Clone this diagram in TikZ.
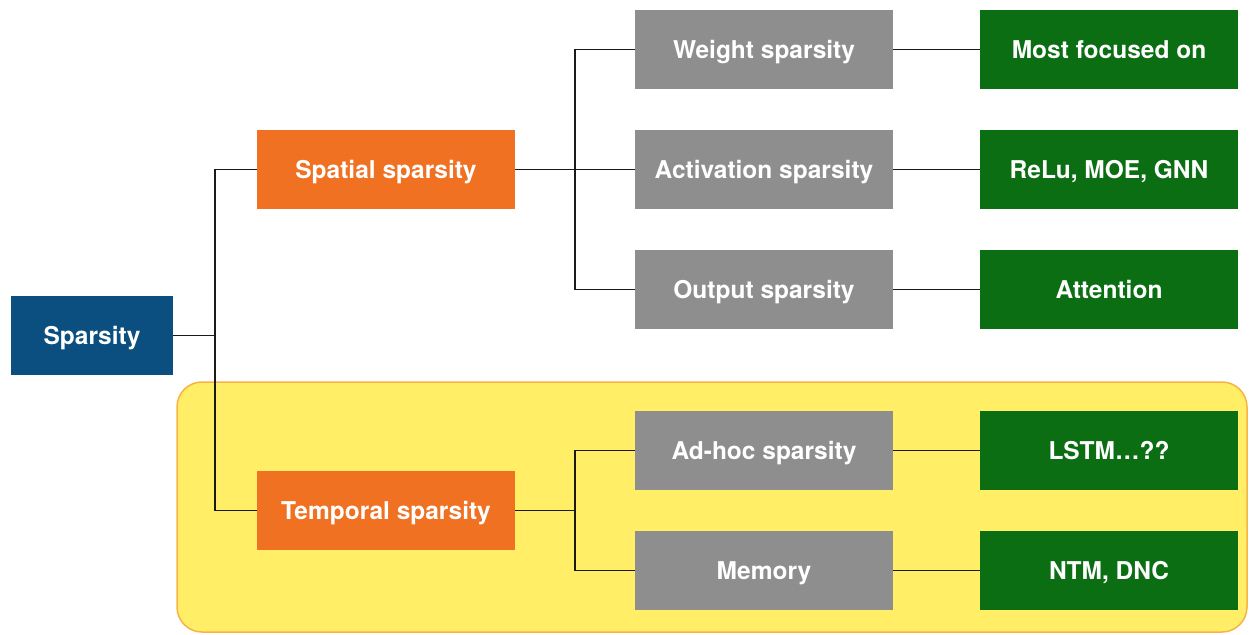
\documentclass[tikz,border=0pt]{standalone}
\usepackage{fontspec}
\setmainfont{TeX Gyre Heros}
\usepackage{tikz}
\usetikzlibrary{positioning}
\definecolor{myBlue}{HTML}{0B4F80}
\definecolor{myOrange}{HTML}{F07122}
\definecolor{myGray}{HTML}{8E8E8E}
\definecolor{myGreen}{HTML}{0B6E13}
\definecolor{myYellow}{HTML}{FFEE66}
\definecolor{myBorder}{HTML}{F7B443}
\definecolor{myLine}{HTML}{1A1A1A}

\begin{document}
\begin{tikzpicture}[%
        x=1pt, y=-1pt,
        every node/.style={
            font=\fontsize{24.5}{28}\selectfont\bfseries,
            text=white,
            inner sep=0pt,
            % keep the capitals centred in the box
            text height=22.6pt,
            text depth=5pt,
        },
        box/.style={minimum width=258pt, minimum height=79pt},
        link/.style={myLine, line width=1.2pt},
    ]
    % fix the page size
    \useasboundingbox (0,0) rectangle (1249,634);

    % highlighted area round the temporal branch
    \draw[myBorder, line width=1.5pt, fill=myYellow, rounded corners=25pt]
        (177,382) rectangle (1247,632);

    % root
    \node[box, fill=myBlue, minimum width=162pt] (sparsity) at (92,335.5) {Sparsity};

    % first level
    \node[box, fill=myOrange] (spatial) at (386,169.5) {Spatial sparsity};
    \node[box, fill=myOrange] (temporal) at (386,510.5) {Temporal sparsity};

    % second level
    \node[box, fill=myGray] (weight) at (764,49.5) {Weight sparsity};
    \node[box, fill=myGray] (activation) at (764,169.5) {Activation sparsity};
    \node[box, fill=myGray] (output) at (764,289.5) {Output sparsity};
    \node[box, fill=myGray] (adhoc) at (764,450.5) {Ad-hoc sparsity};
    \node[box, fill=myGray] (memory) at (764,570.5) {Memory};

    % examples
    \node[box, fill=myGreen] (focused) at (1109,49.5) {Most focused on};
    \node[box, fill=myGreen] (relu) at (1109,169.5) {ReLu, MOE, GNN};
    \node[box, fill=myGreen] (attention) at (1109,289.5) {Attention};
    \node[box, fill=myGreen] (lstm) at (1109,450.5) {LSTM\dots??};
    \node[box, fill=myGreen] (ntm) at (1109,570.5) {NTM, DNC};

    % branch points
    \coordinate (splitRoot) at (215,335.5);
    \coordinate (splitSpatial) at (575,169.5);
    \coordinate (splitTemporal) at (575,510.5);

    % tree connectors
    \draw[link] (sparsity.east) -- (splitRoot);
    \draw[link] (splitRoot) |- (spatial.west);
    \draw[link] (splitRoot) |- (temporal.west);

    \draw[link] (spatial.east) -- (activation.west);
    \draw[link] (splitSpatial) |- (weight.west);
    \draw[link] (splitSpatial) |- (output.west);

    \draw[link] (temporal.east) -- (splitTemporal);
    \draw[link] (splitTemporal) |- (adhoc.west);
    \draw[link] (splitTemporal) |- (memory.west);

    % leaves
    \draw[link] (weight.east) -- (focused.west);
    \draw[link] (activation.east) -- (relu.west);
    \draw[link] (output.east) -- (attention.west);
    \draw[link] (adhoc.east) -- (lstm.west);
    \draw[link] (memory.east) -- (ntm.west);
\end{tikzpicture}
\end{document}
